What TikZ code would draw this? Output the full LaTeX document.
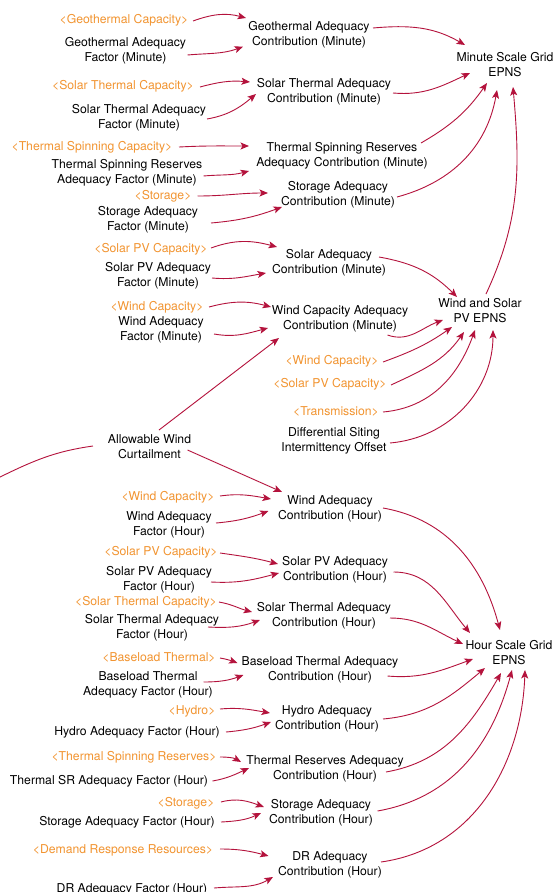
\documentclass[tikz,border=0pt]{standalone}
\usepackage{fontspec}
\setmainfont{TeX Gyre Heros}
\usetikzlibrary{arrows.meta}
\definecolor{arrowred}{RGB}{180,18,60}
\definecolor{shadoworange}{RGB}{242,148,48}
\tikzset{
  var/.style={align=center, inner sep=0pt, font=\fontsize{12.2}{15}\selectfont, text=black},
  shadowvar/.style={var, text=shadoworange},
  conn/.style={draw=arrowred, line width=0.9pt, -{Stealth[length=8.5pt,width=7pt,inset=2pt]}},
  link/.style={draw=arrowred, line width=0.9pt},
}
\newcommand\conarrow[8]{\draw[conn] ([shift={(#2,#3)}]#1.center) to[out=#4,in=#5] ([shift={(#7,#8)}]#6.center);}
\begin{document}
\begin{tikzpicture}[x=1pt,y=1pt]
\useasboundingbox (0,0) rectangle (557,-892);
\fill[white] (0,0) rectangle (557,-892);
% ---------- minute section ----------
\node[shadowvar] (geocap) at (124,-20) {<Geothermal Capacity>};
\node[var] (geofac) at (125.5,-50.5) {Geothermal Adequacy\\Factor (Minute)};
\node[var] (geocon) at (309,-34.5) {Geothermal Adequacy\\Contribution (Minute)};
\node[var] (mingrid) at (505,-65) {Minute Scale Grid\\EPNS};
\node[shadowvar] (stcap) at (123,-86) {<Solar Thermal Capacity>};
\node[var] (stfac) at (139,-117.5) {Solar Thermal Adequacy\\Factor (Minute)};
\node[var] (stcon) at (324,-92) {Solar Thermal Adequacy\\Contribution (Minute)};
\node[shadowvar] (tscap) at (92,-147) {<Thermal Spinning Capacity>};
\node[var] (tsfac) at (127,-172.5) {Thermal Spinning Reserves\\Adequacy Factor (Minute)};
\node[var] (tscon) at (342,-155.5) {Thermal Spinning Reserves\\Adequacy Contribution (Minute)};
\node[shadowvar] (storcap) at (163,-196) {<Storage>};
\node[var] (storcon) at (338,-194.5) {Storage Adequacy\\Contribution (Minute)};
\node[var] (storfac) at (148,-219.5) {Storage Adequacy\\Factor (Minute)};
\node[shadowvar] (pvcap) at (151,-249) {<Solar PV Capacity>};
\node[var] (pvfac) at (158,-276) {Solar PV Adequacy\\Factor (Minute)};
\node[var] (solcon) at (329,-262.5) {Solar Adequacy\\Contribution (Minute)};
\node[shadowvar] (wcap) at (157,-307) {<Wind Capacity>};
\node[var] (wfac) at (161,-329.5) {Wind Adequacy\\Factor (Minute)};
\node[var] (wcon) at (340,-319) {Wind Capacity Adequacy\\Contribution (Minute)};
\node[var] (wsepns) at (480,-310.5) {Wind and Solar\\PV EPNS};
\node[shadowvar] (wcaptwo) at (332,-361) {<Wind Capacity>};
\node[shadowvar] (pvcaptwo) at (330,-384) {<Solar PV Capacity>};
\node[shadowvar] (trans) at (336,-411) {<Transmission>};
\node[var] (dsio) at (334,-440.5) {Differential Siting\\Intermittency Offset};
\node[var] (awc) at (149.5,-446.5) {Allowable Wind\\Curtailment};
% ---------- hour section ----------
\node[shadowvar] (wcaph) at (168,-497) {<Wind Capacity>};
\node[var] (wfach) at (169,-525) {Wind Adequacy\\Factor (Hour)};
\node[var] (wconh) at (330,-509) {Wind Adequacy\\Contribution (Hour)};
\node[shadowvar] (pvcaph) at (161,-552) {<Solar PV Capacity>};
\node[var] (pvfach) at (159,-579.5) {Solar PV Adequacy\\Factor (Hour)};
\node[var] (pvconh) at (335,-569.5) {Solar PV Adequacy\\Contribution (Hour)};
\node[shadowvar] (stcaph) at (146,-602) {<Solar Thermal Capacity>};
\node[var] (stfach) at (152,-628) {Solar Thermal Adequacy\\Factor (Hour)};
\node[var] (stconh) at (324,-615.5) {Solar Thermal Adequacy\\Contribution (Hour)};
\node[shadowvar] (btcap) at (159,-657) {<Baseload Thermal>};
\node[var] (btfac) at (148,-684.5) {Baseload Thermal\\Adequacy Factor (Hour)};
\node[var] (btcon) at (320,-670) {Baseload Thermal Adequacy\\Contribution (Hour)};
\node[var] (hourgrid) at (509,-653) {Hour Scale Grid\\EPNS};
\node[shadowvar] (hydcap) at (192,-711) {<Hydro>};
\node[var] (hydfac) at (137,-732) {Hydro Adequacy Factor (Hour)};
\node[var] (hydcon) at (327,-718.5) {Hydro Adequacy\\Contribution (Hour)};
\node[shadowvar] (tsrcap) at (134,-757) {<Thermal Spinning Reserves>};
\node[var] (tsrfac) at (109,-781) {Thermal SR Adequacy Factor (Hour)};
\node[var] (trcon) at (325,-768.5) {Thermal Reserves Adequacy\\Contribution (Hour)};
\node[shadowvar] (storcaph) at (186,-803) {<Storage>};
\node[var] (storfach) at (127,-822) {Storage Adequacy Factor (Hour)};
\node[var] (storconh) at (321,-813) {Storage Adequacy\\Contribution (Hour)};
\node[shadowvar] (drcap) at (123,-850) {<Demand Response Resources>};
\node[var] (drcon) at (330,-864.5) {DR Adequacy\\Contribution (Hour)};
\node[var] (drfac) at (132,-889.5) {DR Adequacy Factor (Hour)};
\coordinate (leftend) at (-1,-477.5);
% ---------- connectors: minute ----------
\conarrow{geocap}{69}{-1}{20}{165}{geocon}{-63}{16.5}
\conarrow{geofac}{62}{-4.5}{5}{200}{geocon}{-66}{-12.2}
\conarrow{geocon}{64}{6.5}{5}{150}{mingrid}{-40}{20}
\conarrow{stcap}{77}{-1}{15}{175}{stcon}{-74}{10}
\conarrow{stfac}{68}{-1.5}{10}{220}{stcon}{-68}{-2}
\conarrow{stcon}{69}{-1}{-5}{205}{mingrid}{-35}{-8}
\conarrow{tscap}{87}{0}{3}{180}{tscon}{-93}{9.5}
\conarrow{tsfac}{76.5}{-3.5}{5}{195}{tscon}{-93}{-15.5}
\conarrow{tscon}{79}{12.5}{30}{235}{mingrid}{-18}{-18}
\conarrow{storcap}{34.5}{0}{0}{180}{storcon}{-70}{1.5}
\conarrow{storfac}{63}{-3.5}{5}{200}{storcon}{-56}{-12.5}
\conarrow{storcon}{59}{-2.5}{15}{260}{mingrid}{-8}{-25}
\conarrow{wsepns}{6}{16.5}{65}{-85}{mingrid}{8}{-22}
\conarrow{pvcap}{60}{1}{20}{165}{solcon}{-52}{15.5}
\conarrow{pvfac}{54}{-2}{-5}{190}{solcon}{-63}{-10.5}
\conarrow{solcon}{50}{5.5}{-10}{135}{wsepns}{-23}{13.5}
\conarrow{wcap}{52}{0}{15}{165}{wcon}{-69}{12}
\conarrow{wfac}{53}{-4.5}{-10}{195}{wcon}{-72}{-9}
\conarrow{wcon}{47.5}{-16}{-20}{200}{wsepns}{-37}{-9.5}
\conarrow{wcaptwo}{51}{-1}{20}{215}{wsepns}{-28}{-16.5}
\conarrow{pvcaptwo}{61}{-1}{25}{235}{wsepns}{-16}{-21.5}
\conarrow{trans}{47}{-1}{5}{250}{wsepns}{-5}{-19.5}
\conarrow{dsio}{56}{-2.5}{5}{270}{wsepns}{13}{-19.5}
\draw[conn] ([shift={(9.5,16.5)}]awc.center) -- ([shift={(-61,-19)}]wcon.center);
\draw[link] ([shift={(-56.5,0.5)}]awc.center) to[out=188,in=26] (leftend);
\draw[conn] ([shift={(38,-3.5)}]awc.center) -- ([shift={(-48,17)}]wconh.center);
% ---------- connectors: hour ----------
\conarrow{wcaph}{52}{1}{8}{170}{wconh}{-59}{10}
\conarrow{wfach}{47}{2}{5}{200}{wconh}{-61.5}{-2}
\conarrow{wconh}{53}{1}{-10}{105}{hourgrid}{-9}{23}
\conarrow{pvcaph}{59}{-1}{-8}{165}{pvconh}{-57}{5.5}
\conarrow{pvfach}{52}{-2.5}{-3}{195}{pvconh}{-56}{-3.5}
\conarrow{pvconh}{58.5}{-2.5}{0}{130}{hourgrid}{-39}{20}
\conarrow{stcaph}{73}{0}{-10}{165}{stconh}{-72}{3.5}
\conarrow{stfach}{56}{1}{-3}{200}{stconh}{-64}{-4.5}
\conarrow{stconh}{66}{-2.5}{0}{155}{hourgrid}{-46}{9}
\conarrow{btcap}{61}{-1}{-10}{160}{btcon}{-82.5}{7}
\conarrow{btfac}{55.5}{2.5}{0}{200}{btcon}{-76.5}{-5}
\conarrow{btcon}{67.5}{-6}{-5}{200}{hourgrid}{-36}{-6}
\conarrow{hydcap}{28}{2}{5}{170}{hydcon}{-57}{5.5}
\conarrow{hydfac}{89}{0}{5}{200}{hydcon}{-56}{-3.5}
\conarrow{hydcon}{56}{-0.5}{5}{220}{hourgrid}{-24}{-15}
\conarrow{tsrcap}{86}{0}{0}{150}{trcon}{-84}{6.5}
\conarrow{tsrfac}{103.5}{0}{10}{205}{trcon}{-76}{0.5}
\conarrow{trcon}{61}{-3.5}{10}{240}{hourgrid}{-8}{-20}
\conarrow{storcaph}{35}{1}{15}{160}{storconh}{-57}{6}
\conarrow{storfach}{94}{0}{3}{205}{storconh}{-60}{0}
\conarrow{storconh}{56.5}{2}{10}{255}{hourgrid}{3}{-17}
\conarrow{drcap}{97}{1}{0}{165}{drcon}{-61.5}{8.5}
\conarrow{drfac}{82}{1.5}{5}{210}{drcon}{-57}{-12.5}
\conarrow{drcon}{51}{2.5}{8}{268}{hourgrid}{16}{-17}
\end{tikzpicture}
\end{document}
